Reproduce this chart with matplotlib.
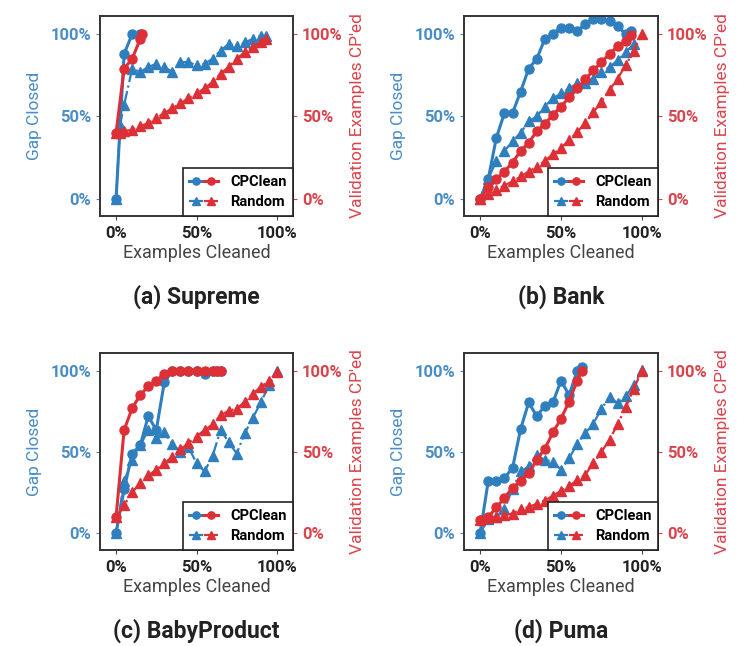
"""
Gap closed vs. examples cleaned, CPClean against Random, four datasets.
"""

import matplotlib
matplotlib.use("Agg")
import matplotlib.pyplot as plt
from matplotlib.legend_handler import HandlerTuple

BLUE = "#2f7fbf"
RED = "#dc2f36"
BLUE_TXT = "#4a8cc4"
RED_TXT = "#d9444c"

plt.rcParams["font.family"] = ["Roboto", "DejaVu Sans"]

titles = ["(a) Supreme", "(b) Bank", "(c) BabyProduct", "(d) Puma"]

# (a) Supreme
sup_cp_x = [0, 5, 10, 15]
sup_cp_gap = [0, 88, 100, 100]
sup_cp_val_x = [0, 5, 10, 15, 16]
sup_cp_val = [40, 79, 85, 97, 100]
sup_rd_x = [0, 2.5, 5, 10, 15, 20, 25, 30, 35, 40, 45, 50, 55, 60, 65, 70,
            75, 80, 85, 90, 93]
sup_rd_gap = [0, 45, 57, 79, 77, 80, 82, 80, 77, 83, 83, 81, 82, 85, 90, 94,
              93, 95, 97, 99, 99]
sup_rd_val = [40, 40, 41, 42, 44, 46, 49, 52, 55, 58, 61, 64, 67, 71, 76, 80,
              85, 89, 92, 95, 97]

# (b) Bank
bank_cp_x = [0, 5, 10, 15, 20, 25, 30, 35, 40, 45, 50, 55, 60, 65, 70, 75,
             80, 85, 90, 93]
bank_cp_gap = [0, 12, 37, 52, 52, 65, 79, 85, 97, 100, 104, 104, 102, 106,
               109, 109, 108, 105, 100, 102]
bank_cp_val = [0, 7, 12, 16.5, 22, 29, 34, 41, 45.5, 51, 56, 61.5, 67, 72.5,
               78, 83, 88, 92.5, 96, 99.5]
bank_rd_x = [0, 5, 10, 15, 20, 25, 30, 35, 40, 45, 50, 55, 60, 65, 70, 75,
             80, 85, 90, 95, 100]
bank_rd_gap = [0, 12, 23, 29, 35, 40, 47, 50, 56, 61, 64, 67, 70, 70, 73, 77,
               80, 84, 89, 94, None]
bank_rd_val = [0, 3, 5.5, 8, 10.5, 13.5, 16.5, 19.5, 23, 27, 31, 35.5, 40.5,
               46, 52.5, 59, 66, 73, 81, 90, 100]

# (c) BabyProduct
baby_cp_x = [0, 5, 10, 15, 20, 25, 30, 35, 40, 45, 50, 55, 60, 63, 65]
baby_cp_gap = [0, 27, 49, 54, 72, 63.5, 93, 100, 100, 100, 100, 98, 100, 100,
               100]
baby_cp_val = [10, 63.5, 77, 85, 90.5, 94, 98, 99.6, 100, 100, 100, 100, 100,
               100, 100]
baby_rd_x = [0, 5, 10, 15, 20, 25, 30, 35, 40, 45, 50, 55, 60, 65, 70, 75,
             80, 85, 90, 95, 100]
baby_rd_gap = [0, 32, 45, 54, 63.5, 58.5, 62, 55, 50, 53, 43, 38, 47.5, 63.5,
               56, 49, 61.5, 71, 80.5, 91, 100]
baby_rd_val = [10, 17, 25, 31, 35.5, 39, 43, 47, 51.5, 55.5, 59.5, 63.5, 67,
               72.5, 75.5, 76.5, 81, 86, 90, 94, 99]

# (d) Puma
puma_cp_x = [0, 5, 10, 15, 20, 25, 30, 35, 40, 45, 50, 55, 60, 63]
puma_cp_gap = [0, 32, 32, 34, 40, 64, 80.5, 72, 78.5, 80.5, 94, 85, 100, 102.5]
puma_cp_val = [8, 9.7, 15.8, 21.5, 28, 32, 37, 45, 52, 62, 70.5, 81, 94, 100]
puma_rd_x = [0, 5, 10, 15, 20, 25, 30, 35, 40, 45, 50, 55, 60, 65, 70, 75,
             80, 85, 90, 95, 100]
puma_rd_gap = [0, 8.5, 10, 15, 27, 38, 41, 48, 45, 44, 39, 46, 55, 61.5, 67.5,
               76.5, 84, 80, 84.5, 91, 100.5]
puma_rd_val = [8, 9, 10, 11, 12, 14.5, 16, 18, 20, 23, 26, 29, 32.5, 36, 43,
               50, 57.5, 67, 77.5, 89, 100]

panels = [
    (sup_cp_x, sup_cp_gap, sup_cp_val_x, sup_cp_val,
     sup_rd_x, sup_rd_gap, sup_rd_val),
    (bank_cp_x, bank_cp_gap, bank_cp_x, bank_cp_val,
     bank_rd_x, bank_rd_gap, bank_rd_val),
    (baby_cp_x, baby_cp_gap, baby_cp_x, baby_cp_val,
     baby_rd_x, baby_rd_gap, baby_rd_val),
    (puma_cp_x, puma_cp_gap, puma_cp_x, puma_cp_val,
     puma_rd_x, puma_rd_gap, puma_rd_val),
]

W, H = 751, 646
fig = plt.figure(figsize=(W / 100, H / 100), dpi=100)

# axes boxes in pixels: left, top, right, bottom
boxes = [(100, 16, 293, 216), (464, 16, 658, 216),
         (100, 353, 293, 550), (464, 353, 658, 550)]

ticks = [0, 50, 100]
tick_labels = ["0%", "50%", "100%"]

for (l, t, r, b), title, data in zip(boxes, titles, panels):
    cx, cgap, cvx, cval, rx, rgap, rval = data
    ax = fig.add_axes([l / W, 1 - b / H, (r - l) / W, (b - t) / H])
    ax2 = ax.twinx()

    rgx = [x for x, y in zip(rx, rgap) if y is not None]
    rgy = [y for y in rgap if y is not None]

    b_rd, = ax.plot(rgx, rgy, color=BLUE, ls="-.", lw=1.6, marker="^", ms=6.5)
    b_cp, = ax.plot(cx, cgap, color=BLUE, ls="-", lw=2.2, marker="o", ms=6.5)
    r_rd, = ax2.plot(rx, rval, color=RED, ls="-.", lw=1.6, marker="^", ms=6.5)
    r_cp, = ax2.plot(cvx, cval, color=RED, ls="-", lw=2.2, marker="o", ms=6.5)

    for a in (ax, ax2):
        a.set_xlim(-10, 110)
        a.set_ylim(-10.5, 111)
        a.set_yticks(ticks)
        a.set_yticklabels(tick_labels)
    ax.set_xticks(ticks)
    ax.set_xticklabels(tick_labels, fontsize=12, fontweight="bold",
                       color="#222222")
    ax.tick_params(axis="x", length=3, color="#444444", pad=4)
    ax.tick_params(axis="y", colors=BLUE_TXT, length=3, labelsize=12)
    ax2.tick_params(axis="y", colors=RED_TXT, length=3, labelsize=12)
    for lab in ax.get_yticklabels() + ax2.get_yticklabels():
        lab.set_fontweight("bold")

    ax.set_ylabel("Gap Closed", color=BLUE_TXT, fontsize=12.5, labelpad=6)
    ax2.set_ylabel("Validation Examples CP'ed", color=RED_TXT, fontsize=12.5,
                   labelpad=5)
    ax.set_xlabel("Examples Cleaned", color="#444444", fontsize=13,
                  labelpad=2)

    for a in (ax, ax2):
        for s in a.spines.values():
            s.set_color("#333333")
            s.set_linewidth(1.2)

    leg = ax2.legend([(b_cp, r_cp), (b_rd, r_rd)], ["CPClean", "Random"],
                     handler_map={tuple: HandlerTuple(ndivide=None, pad=0)},
                     loc="lower right", borderaxespad=0, fancybox=False,
                     framealpha=1, edgecolor="#222222", handlelength=2.0,
                     markerscale=0.8, borderpad=0.45, labelspacing=0.45,
                     prop={"weight": "bold", "size": 10.5})
    leg.get_frame().set_linewidth(1.2)

    fig.text((l + r) / 2 / W, 1 - (b + 81) / H, title, ha="center",
             va="center", fontsize=16.5, fontweight="bold", color="#222222")

fig.savefig("out.png", dpi=100)
